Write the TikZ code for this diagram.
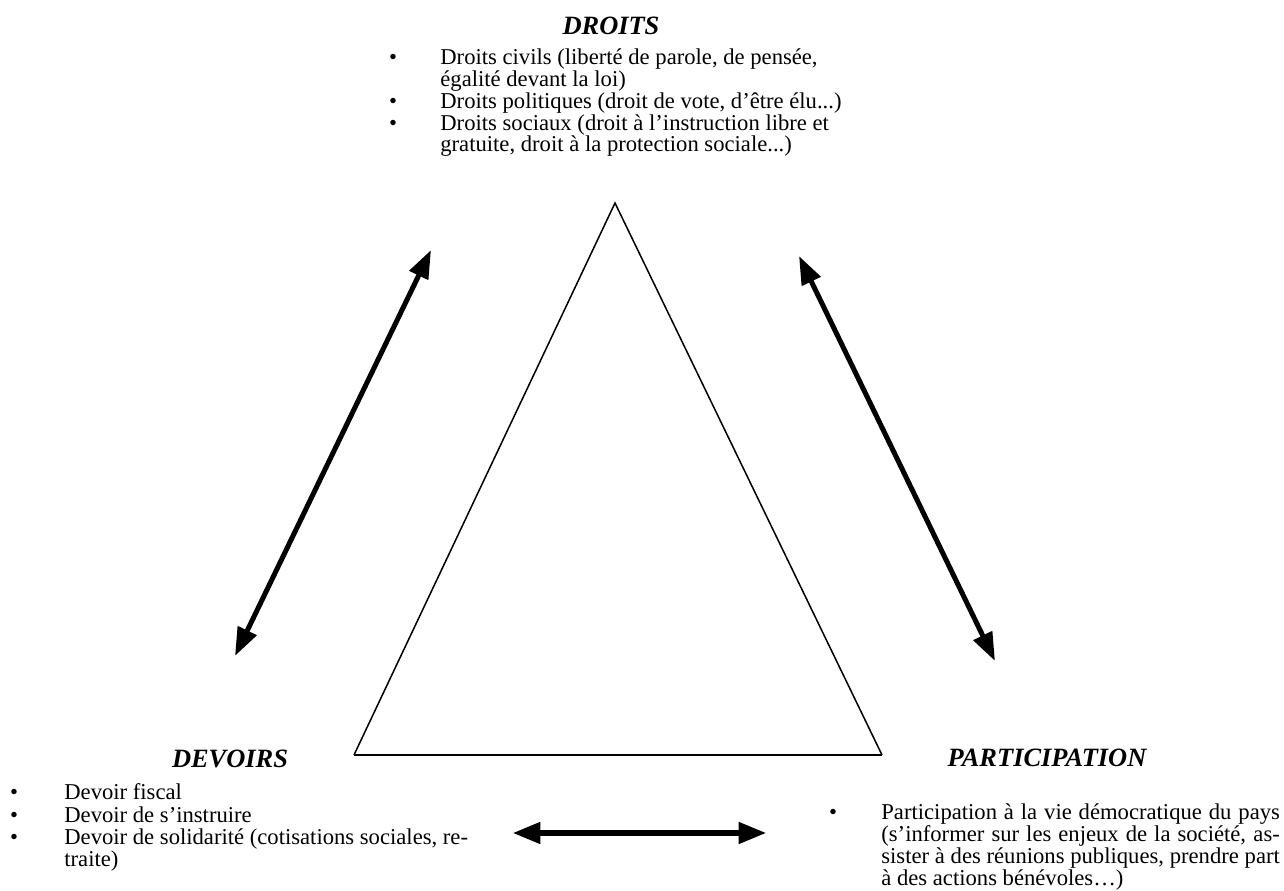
\documentclass[tikz,border=0pt]{standalone}
\usepackage{fontspec}
\setmainfont{Liberation Serif}
\usetikzlibrary{arrows.meta}
\tikzset{t/.style={font=\fontsize{14}{14}\selectfont\bfseries\itshape,inner sep=0pt,anchor=base}}
\tikzset{l/.style={font=\fontsize{12}{12}\selectfont,inner sep=0pt,anchor=base west}}
\tikzset{b/.style={font=\fontsize{12}{12}\selectfont,inner sep=0pt,anchor=base}}
\tikzset{fl/.style={line width=2.65pt,{Triangle[length=15pt,width=10.6pt]}-{Triangle[length=15pt,width=10.6pt]}}}
\newcommand{\just}[1]{\makebox[17.6em][s]{#1}}

\begin{document}
\begin{tikzpicture}[x=0.53pt,y=-0.53pt]
        \useasboundingbox (0,0) rectangle (1284,891);
        % triangle
        \coordinate (S) at (615,203);
        \coordinate (G) at (354,755);
        \coordinate (D) at (882,755);
        \draw[line width=0.8pt] (G) -- (S) -- (D);
        \draw[line width=1.4pt] (G) -- (D);
        % titres
        \node[t] (droits) at (611,35) {DROITS};
        \node[t] (devoirs) at (230,768) {DEVOIRS};
        \node[t] (particip) at (1047,767) {PARTICIPATION};
        % droits
        \node[b] (bd1) at (393,65) {\textbullet};
        \node[l] (d1) at (440,65) {Droits civils (liberté de parole, de pensée,};
        \node[l] (d2) at (440,87) {égalité devant la loi)};
        \node[b] (bd3) at (393,109) {\textbullet};
        \node[l] (d3) at (440,109) {Droits politiques (droit de vote, d’être élu...)};
        \node[b] (bd4) at (393,131) {\textbullet};
        \node[l] (d4) at (440,131) {Droits sociaux (droit à l’instruction libre et};
        \node[l] (d5) at (440,152) {gratuite, droit à la protection sociale...)};
        % devoirs
        \node[b] (bv1) at (14,800) {\textbullet};
        \node[l] (v1) at (64,800) {Devoir fiscal};
        \node[b] (bv2) at (14,823) {\textbullet};
        \node[l] (v2) at (64,823) {Devoir de s’instruire};
        \node[b] (bv3) at (14,845) {\textbullet};
        \node[l] (v3) at (64,845) {Devoir de solidarité (cotisations sociales, re-};
        \node[l] (v4) at (64,867) {traite)};
        % participation
        \node[b] (bp1) at (833,820) {\textbullet};
        \node[l] (p1) at (881,820) {\just{Participation à la vie démocratique du pays}};
        \node[l] (p2) at (881,842) {\just{(s’informer sur les enjeux de la société, as-}};
        \node[l] (p3) at (881,864) {\just{sister à des réunions publiques, prendre part}};
        \node[l] (p4) at (881,886) {à des actions bénévoles…)};
        % fleches
        \coordinate (g1) at (431,250);
        \coordinate (g2) at (235,656);
        \coordinate (r1) at (799,256);
        \coordinate (r2) at (995,661);
        \coordinate (h1) at (512,833);
        \coordinate (h2) at (767,833);
        \draw[fl] (g1) -- (g2);
        \draw[fl] (r1) -- (r2);
        \draw[fl,line width=3.7pt] (h1) -- (h2);
      \end{tikzpicture}
\end{document}
